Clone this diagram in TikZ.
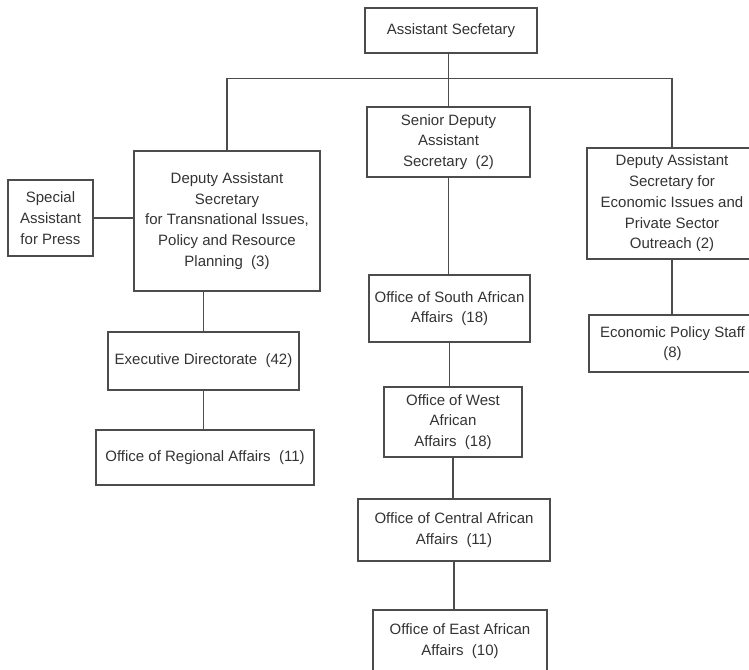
\documentclass[tikz,border=0pt]{standalone}
\usepackage{fontspec}
\setmainfont{Liberation Sans}
\begin{document}
\begin{tikzpicture}[x=1pt, y=-1pt,
        office/.style={draw=black!70, line width=1.1pt, text=black!80, align=center,
            inner sep=0pt, font=\fontsize{15}{20.7}\selectfont},
        link/.style={draw=black!70, line width=1.1pt}]
    \useasboundingbox (0, 0) rectangle (749, 669);
    % top of the chart
    \node [office, minimum width=172, minimum height=45] (head) at (451, 30.5) {Assistant Secfetary};
    \node [office, minimum width=163, minimum height=70] (sdas) at (448.5, 142) {Senior Deputy\\Assistant\\Secretary\ \ (2)};
    \node [office, minimum width=186, minimum height=140] (dast) at (227, 221) {Deputy Assistant\\Secretary\\for Transnational Issues,\\Policy and Resource\\Planning\ \ (3)};
    \node [office, minimum width=85, minimum height=76] (press) at (50.5, 218) {Special\\Assistant\\for Press};
    \node [office, minimum width=170, minimum height=111] (dase) at (672, 203.5) {Deputy Assistant\\Secretary for\\Economic Issues and\\Private Sector\\Outreach (2)};
    % left column
    \node [office, minimum width=191, minimum height=58] (exec) at (203.5, 361) {Executive Directorate\ \ (42)};
    \node [office, minimum width=218, minimum height=55] (regional) at (205, 457.5) {Office of Regional Affairs\ \ (11)};
    % middle column
    \node [office, minimum width=161, minimum height=67] (south) at (449.5, 308.5) {Office of South African\\Affairs\ \ (18)};
    \node [office, minimum width=138, minimum height=70] (west) at (453, 422) {Office of West\\African\\Affairs\ \ (18)};
    \node [office, minimum width=192, minimum height=62] (central) at (454, 530) {Office of Central African\\Affairs\ \ (11)};
    \node [office, minimum width=174, minimum height=62] (east) at (460, 641) {Office of East African\\Affairs\ \ (10)};
    % right column
    \node [office, minimum width=167, minimum height=57] (eps) at (672.5, 343.5) {Economic Policy Staff\\(8)};

    \coordinate (bus) at (sdas.north |- 0, 78.5);
    \draw [link] (sdas.north) -- (sdas.north |- head.south);
    \draw [link] (dast.north) |- (bus) -| (dase.north);
    \draw [link] (press.east) -- (press.east -| dast.west);
    \draw [link] (exec.north) -- (exec.north |- dast.south);
    \draw [link] (exec.south) -- (exec.south |- regional.north);
    \foreach \a/\b in {sdas/south, south/west, west/central, central/east}
        \draw [link] (\a.south) -- (\a.south |- \b.north);
    \draw [link] (dase.south) -- (dase.south |- eps.north);
\end{tikzpicture}
\end{document}
